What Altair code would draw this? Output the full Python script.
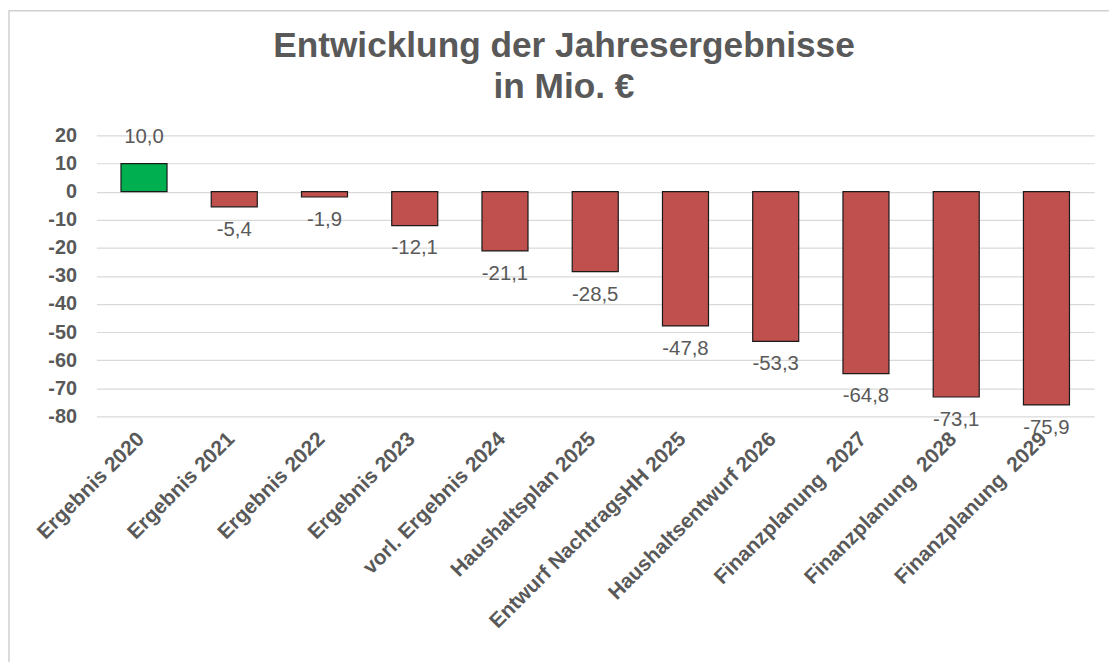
import altair as alt
import pandas as pd

categories = [
    "Ergebnis 2020", "Ergebnis 2021", "Ergebnis 2022", "Ergebnis 2023",
    "vorl. Ergebnis 2024", "Haushaltsplan 2025", "Entwurf NachtragsHH 2025",
    "Haushaltsentwurf 2026", "Finanzplanung  2027", "Finanzplanung  2028",
    "Finanzplanung  2029",
]
values = [10.0, -5.4, -1.9, -12.1, -21.1, -28.5, -47.8, -53.3, -64.8, -73.1, -75.9]
y_ticks = [-80, -70, -60, -50, -40, -30, -20, -10, 0, 10, 20]
title_lines = ["Entwicklung der Jahresergebnisse", "in Mio. €"]

df = pd.DataFrame({"cat": categories, "val": values})
df["label"] = [f"{v:.1f}".replace(".", ",") for v in values]
df["sign"] = ["pos" if v >= 0 else "neg" for v in values]
df["catlabel"] = [c.replace("  ", "\u00a0 ") for c in categories]

W, H = 1005, 283
GRAY = "#595959"

x = alt.X("cat:N", sort=categories, title=None,
          scale=alt.Scale(paddingInner=0.49, paddingOuter=0.273),
          axis=alt.Axis(labels=False, ticks=False, domain=False))
y = alt.Y("val:Q", title=None,
          scale=alt.Scale(domain=[-80, 20], nice=False, zero=False),
          axis=alt.Axis(values=y_ticks, labelFont="Liberation Sans", labelFontWeight="bold",
                        labelFontSize=20, labelColor=GRAY, ticks=False, domain=False,
                        labelExpr="datum.value + ''",
                        labelOverlap=False, labelPadding=20, gridColor="#d9d9d9", gridWidth=1.2))

base = alt.Chart(df)

bars = base.mark_bar(stroke="#1a1a1a", strokeWidth=1.2).encode(
    x=x, y=y, y2=alt.datum(0),
    color=alt.Color("sign:N", scale=alt.Scale(domain=["pos", "neg"], range=["#00b050", "#c0504d"]), legend=None),
)

lab_pos = base.transform_filter("datum.val >= 0").mark_text(
    baseline="alphabetic", dy=-21, font="Liberation Sans", fontSize=20.5, color=GRAY
).encode(x=x, y=y, text="label:N")

lab_neg = base.transform_filter("datum.val < 0").mark_text(
    baseline="top", dy=13, font="Liberation Sans", fontSize=20.5, color=GRAY
).encode(x=x, y=y, text="label:N")

xlabels = base.mark_text(
    angle=315, align="right", baseline="middle", dx=-4, font="Liberation Sans", fontWeight="bold",
    fontSize=21, color=GRAY
).encode(x=x, y=alt.value(H + 17), text="catlabel:N")

one = pd.DataFrame({"a": [0]})
title1 = alt.Chart(one).mark_text(
    font="Liberation Sans", fontSize=35.5, fontWeight="bold", color=GRAY,
    baseline="alphabetic", align="center"
).encode(x=alt.value(471), y=alt.value(-79), text=alt.value(title_lines[0]))
title2 = alt.Chart(one).mark_text(
    font="Liberation Sans", fontSize=35.5, fontWeight="bold", color=GRAY,
    baseline="alphabetic", align="center"
).encode(x=alt.value(471), y=alt.value(-38), text=alt.value(title_lines[1]))

frame_top = alt.Chart(one).mark_rule(color="#cfcfcf", strokeWidth=1.5).encode(
    x=alt.value(-88), x2=alt.value(W + 30), y=alt.value(-125.5))
frame_left = alt.Chart(one).mark_rule(color="#cfcfcf", strokeWidth=1.5).encode(
    x=alt.value(-88), y=alt.value(-126), y2=alt.value(H + 260))

chart = alt.layer(bars, lab_pos, lab_neg, xlabels, title1, title2, frame_top, frame_left).properties(
    width=W, height=H,
    padding={"left": 89, "top": 126, "right": 15, "bottom": 245},
    autosize=alt.AutoSizeParams(type="none"),
).configure_view(stroke=None)

chart.save("out.html", embed_options={"renderer": "svg", "actions": False})
